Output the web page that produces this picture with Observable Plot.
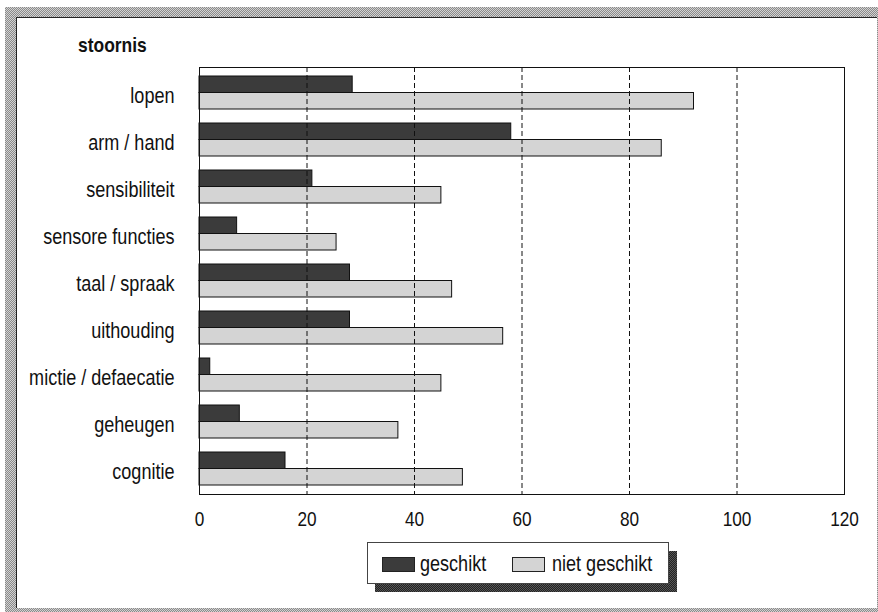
<!DOCTYPE html>
<html>
<head>
<meta charset="utf-8">
<script src="https://cdn.jsdelivr.net/npm/d3@7"></script>
<script src="https://cdn.jsdelivr.net/npm/@observablehq/plot@0.6"></script>
<style>
  html, body { margin: 0; padding: 0; background: #fff; }
  #page { position: relative; width: 878px; height: 612px; overflow: hidden;
          font-family: "Liberation Sans", Arial, sans-serif; color: #111; }
  .stipple { background: repeating-conic-gradient(#8a8a8a 0 25%, #d2d2d2 0 50%) 0 0 / 2px 2px; }
  .dstipple { background: repeating-conic-gradient(#222 0 25%, #555 0 50%) 0 0 / 2px 2px; }
  #outer { position: absolute; left: 5px; top: 7px; width: 873px; height: 605px; }
  #inner { position: absolute; left: 16px; top: 17px; width: 861px; height: 591px; background: #fff;
           border-top: 1px solid #222; border-left: 1px solid #222; box-sizing: border-box; }
  #title { position: absolute; left: 78px; top: 34px; font-weight: bold; font-size: 21px; line-height: 21px;
           transform: scaleX(0.83); transform-origin: 0 0; }
  #chart { position: absolute; left: 0; top: 0; }
  #shadow { position: absolute; left: 375px; top: 551px; width: 302px; height: 41px; }
  #lbox { position: absolute; left: 367px; top: 542px; width: 302px; height: 42px; background: #fff;
          border: 1px solid #444; box-sizing: border-box; }
  .sw { position: absolute; width: 33px; height: 15px; border: 1px solid #222; box-sizing: border-box; }
  .lt { position: absolute; font-size: 22px; line-height: 22px; white-space: nowrap;
        transform: scaleX(0.82); transform-origin: 0 0; }
</style>
</head>
<body>
<div id="page">
  <div id="outer" class="stipple"></div>
  <div id="inner"></div>
  <div id="title">stoornis</div>
  <div id="chart"></div>
  <div id="shadow" class="dstipple"></div>
  <div id="lbox"></div>
</div>
<script>
const categories = ["lopen", "arm / hand", "sensibiliteit", "sensore functies", "taal / spraak",
                    "uithouding", "mictie / defaecatie", "geheugen", "cognitie"];
const geschikt = [28.5, 58, 21, 7, 28, 28, 2, 7.5, 16];
const nietGeschikt = [92, 86, 45, 25.5, 47, 56.5, 45, 37, 49];
const seriesNames = ["geschikt", "niet geschikt"];
const seriesColors = ["#3b3b3b", "#d4d4d4"];
const xTicks = [0, 20, 40, 60, 80, 100, 120];
const gridTicks = [20, 40, 60, 80, 100];

const rowsA = categories.map((c, i) => ({cat: c, series: seriesNames[0], v: geschikt[i]}));
const rowsB = categories.map((c, i) => ({cat: c, series: seriesNames[1], v: nietGeschikt[i]}));

const chart = Plot.plot({
  width: 878,
  height: 540,
  marginLeft: 199,
  marginRight: 34,
  marginTop: 67,
  marginBottom: 46,
  style: {background: "transparent", fontFamily: "'Liberation Sans', Arial, sans-serif", color: "#111"},
  x: {domain: [0, 120]},
  y: {domain: categories, paddingInner: 0.305, paddingOuter: 0.147},
  marks: [
    Plot.barX(rowsA, {x: "v", y: "cat", fill: seriesColors[0], stroke: "#111", strokeWidth: 1, insetBottom: 16.5}),
    Plot.barX(rowsB, {x: "v", y: "cat", fill: seriesColors[1], stroke: "#111", strokeWidth: 1, insetTop: 16.5}),
    Plot.ruleX(gridTicks, {stroke: "#111", strokeWidth: 1, strokeDasharray: "5,3"}),
    Plot.frame({stroke: "#111", strokeWidth: 1}),
    Plot.axisX({ticks: xTicks, tickSize: 0, tickPadding: 17, fontSize: 21, label: null}),
    Plot.axisY({tickSize: 0, tickPadding: 25, fontSize: 22, label: null, dy: 2.5})
  ]
});
document.getElementById("chart").appendChild(chart);

// condense axis labels to mimic the narrow typeface of the original
function condense(sel, ratio) {
  chart.querySelectorAll(sel).forEach(t => {
    const len = t.getComputedTextLength();
    if (len > 0) {
      t.setAttribute("textLength", (len * ratio).toFixed(2));
      t.setAttribute("lengthAdjust", "spacingAndGlyphs");
    }
  });
}
condense('g[aria-label="y-axis tick label"] text', 0.82);
condense('g[aria-label="x-axis tick label"] text', 0.82);

// legend
const page = document.getElementById("page");
const swX = [382, 512];
const txX = [420, 552];
seriesNames.forEach((name, i) => {
  const sw = document.createElement("div");
  sw.className = "sw";
  sw.style.left = swX[i] + "px";
  sw.style.top = "557px";
  sw.style.background = seriesColors[i];
  page.appendChild(sw);
  const t = document.createElement("div");
  t.className = "lt";
  t.style.left = txX[i] + "px";
  t.style.top = "553px";
  t.textContent = name;
  page.appendChild(t);
});
</script>
</body>
</html>
